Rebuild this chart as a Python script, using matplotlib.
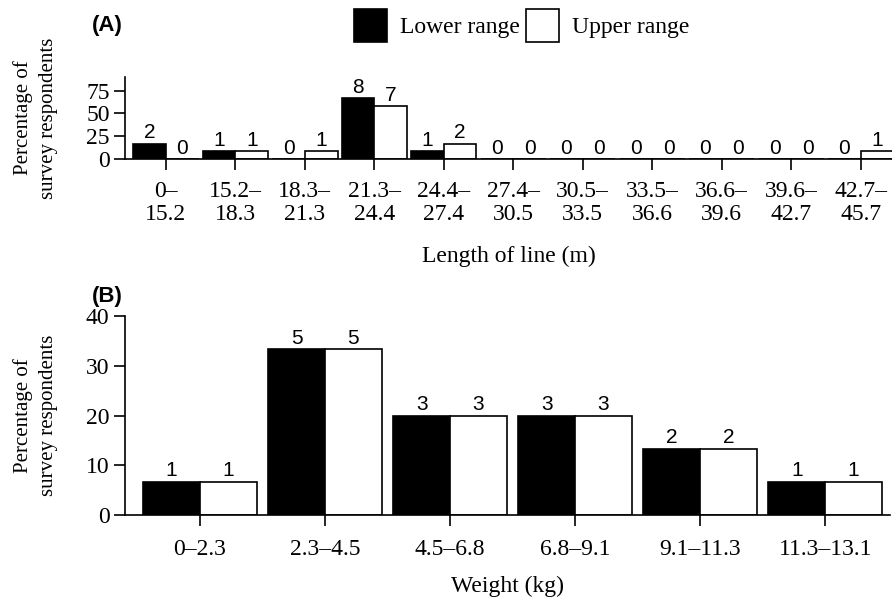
import matplotlib
matplotlib.use("Agg")
import matplotlib.pyplot as plt
from matplotlib.patches import Patch
import numpy as np

# panel A: length of line (m)
length_bins = ["0–\n15.2", "15.2–\n18.3", "18.3–\n21.3", "21.3–\n24.4", "24.4–\n27.4",
               "27.4–\n30.5", "30.5–\n33.5", "33.5–\n36.6", "36.6–\n39.6", "39.6–\n42.7",
               "42.7–\n45.7"]
length_lower_pct = [16.7, 8.3, 0, 66.7, 8.3, 0, 0, 0, 0, 0, 0]
length_upper_pct = [0, 8.3, 8.3, 58.3, 16.7, 0, 0, 0, 0, 0, 8.3]
length_lower_n = [2, 1, 0, 8, 1, 0, 0, 0, 0, 0, 0]
length_upper_n = [0, 1, 1, 7, 2, 0, 0, 0, 0, 0, 1]

# panel B: weight (kg)
weight_bins = ["0–2.3", "2.3–4.5", "4.5–6.8", "6.8–9.1", "9.1–11.3", "11.3–13.1"]
weight_lower_pct = [6.7, 33.3, 20, 20, 13.3, 6.7]
weight_upper_pct = [6.7, 33.3, 20, 20, 13.3, 6.7]
weight_lower_n = [1, 5, 3, 3, 2, 1]
weight_upper_n = [1, 5, 3, 3, 2, 1]

SERIF = "Liberation Serif"
SANS = "Liberation Sans"
plt.rcParams["font.family"] = SERIF
plt.rcParams["font.size"] = 17

fig = plt.figure(figsize=(8.92, 6.02), dpi=100)
axA = fig.add_axes([0.140, 0.736, 0.860, 0.136])
axB = fig.add_axes([0.140, 0.1445, 0.858, 0.3306])


def draw(ax, cats, lo, up, lo_n, up_n, width, ylim, yticks, xlabel, xlim, xpad, lpad):
    x = np.arange(len(cats))
    b1 = ax.bar(x - width / 2, lo, width, color="black", edgecolor="black", linewidth=1.2)
    b2 = ax.bar(x + width / 2, up, width, color="white", edgecolor="black", linewidth=1.2)
    ax.bar_label(b1, labels=[str(v) for v in lo_n], padding=1, fontfamily=SANS, fontsize=15)
    ax.bar_label(b2, labels=[str(v) for v in up_n], padding=1, fontfamily=SANS, fontsize=15)
    ax.set_xticks(x)
    ax.set_xticklabels(cats, linespacing=1.1)
    ax.set_yticks(yticks)
    ax.set_ylim(*ylim)
    ax.set_xlim(*xlim)
    for s in ["top", "right"]:
        ax.spines[s].set_visible(False)
    for s in ["left", "bottom"]:
        ax.spines[s].set_linewidth(1.2)
    ax.tick_params(axis="both", length=8, width=1.2)
    ax.tick_params(axis="x", pad=xpad)
    ax.tick_params(axis="y", pad=3)
    ax.set_xlabel(xlabel, labelpad=lpad)
    ax.set_ylabel("Percentage of\nsurvey respondents", fontsize=15, linespacing=1.45)
    ax.yaxis.set_label_coords(-0.087, 0.5)


draw(axA, length_bins, length_lower_pct, length_upper_pct, length_lower_n, length_upper_n,
     0.47, (0, 90), [0, 25, 50, 75], "Length of line (m)", (-0.59, 10.45), 8, 15)
draw(axB, weight_bins, weight_lower_pct, weight_upper_pct, weight_lower_n, weight_upper_n,
     0.455, (0, 40), [0, 10, 20, 30, 40], "Weight (kg)", (-0.6, 5.52), 9, 12)

fig.text(0.103, 0.958, "(A)", fontfamily=SANS, fontweight="bold", fontsize=16, va="center")
fig.text(0.103, 0.507, "(B)", fontfamily=SANS, fontweight="bold", fontsize=16, va="center")

handles = [Patch(facecolor="black", edgecolor="black", linewidth=1.2),
           Patch(facecolor="white", edgecolor="black", linewidth=1.2)]
fig.legend(handles, ["Lower range", "Upper range"], loc="upper center",
           bbox_to_anchor=(0.585, 0.985), ncol=2, frameon=False, borderpad=0,
           borderaxespad=0, handlelength=1.4, handleheight=1.78, handletextpad=0.55,
           columnspacing=0.25)

fig.savefig("out.png", dpi=100)
